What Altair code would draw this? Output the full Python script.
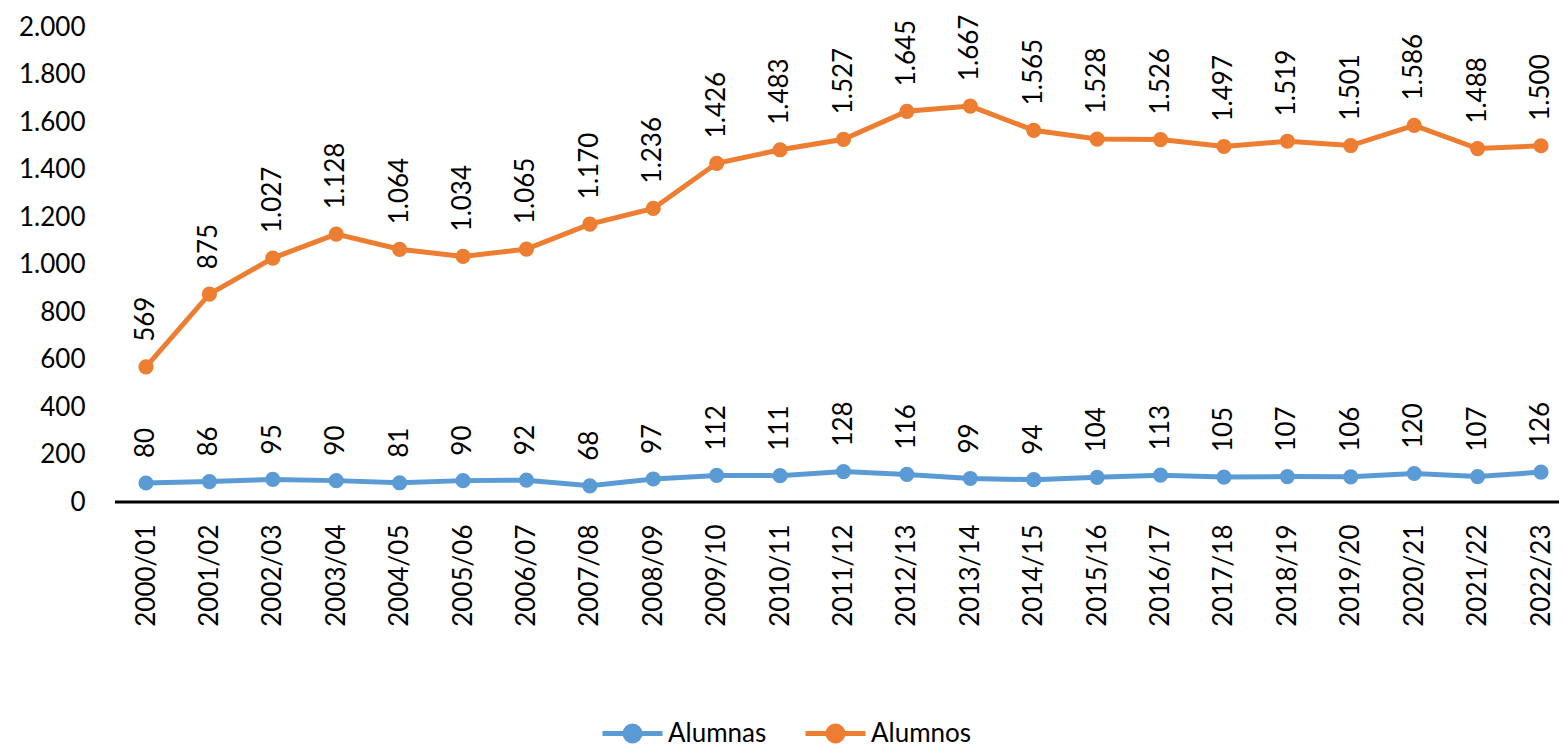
import altair as alt
import pandas as pd

cursos = ["2000/01", "2001/02", "2002/03", "2003/04", "2004/05", "2005/06", "2006/07",
          "2007/08", "2008/09", "2009/10", "2010/11", "2011/12", "2012/13", "2013/14",
          "2014/15", "2015/16", "2016/17", "2017/18", "2018/19", "2019/20", "2020/21",
          "2021/22", "2022/23"]
alumnas = [80, 86, 95, 90, 81, 90, 92, 68, 97, 112, 111, 128, 116, 99, 94, 104, 113,
           105, 107, 106, 120, 107, 126]
alumnos = [569, 875, 1027, 1128, 1064, 1034, 1065, 1170, 1236, 1426, 1483, 1527, 1645,
           1667, 1565, 1528, 1526, 1497, 1519, 1501, 1586, 1488, 1500]
series = ["Alumnas", "Alumnos"]
colors = ["#5B9BD5", "#ED7D31"]
y_ticks = [0, 200, 400, 600, 800, 1000, 1200, 1400, 1600, 1800, 2000]

rows = []
for name, vals in zip(series, [alumnas, alumnos]):
    for c, v in zip(cursos, vals):
        rows.append({"curso": c, "serie": name, "valor": v})
df = pd.DataFrame(rows)

W, H = 1444, 475
FONT = "Lato"
FS = 26

x = alt.X("curso:N", sort=cursos,
          scale=alt.Scale(type="point", range=[31, 1426], padding=0),
          axis=alt.Axis(title=None, labelAngle=-90, labelAlign="right", labelBaseline="middle",
                        labelPadding=22, ticks=False, domain=False, grid=False, labelFont=FONT,
                        labelFontSize=FS, labelColor="#000000"))
y = alt.Y("valor:Q", scale=alt.Scale(domain=[0, 2000], nice=False),
          axis=alt.Axis(title=None, values=y_ticks, grid=False, ticks=False, domain=False,
                        labelPadding=30, labelFont=FONT, labelFontSize=FS, labelColor="#000000",
                        labelExpr="replace(format(datum.value, ','), ',', '.')"))

legend_path = ("M-1,0L1,0M-0.25,0A0.25,0.25,0,1,1,0.25,0A0.25,0.25,0,1,1,-0.25,0Z")
color = alt.Color("serie:N", scale=alt.Scale(domain=series, range=colors),
                  legend=alt.Legend(title=None, orient="none", direction="horizontal",
                                    legendX=485, legendY=674, symbolType=legend_path,
                                    symbolSize=3600, symbolStrokeWidth=5,
                                    labelFont=FONT, labelFontSize=FS, labelColor="#000000",
                                    labelOffset=3, columnPadding=28))

base = alt.Chart(df)
lines = base.mark_line(strokeWidth=5, point=alt.OverlayMarkDef(filled=True, size=230, opacity=1)).encode(
    x=x, y=y, color=color)
labels = base.mark_text(angle=270, align="left", baseline="middle", dx=25,
                        font=FONT, fontSize=FS, color="#000000").transform_calculate(
    lbl="replace(format(datum.valor, ','), ',', '.')").encode(
    x=alt.X("curso:N", sort=cursos), y="valor:Q", text="lbl:N")
zero = alt.Chart(pd.DataFrame({"v": [0]})).mark_rule(color="#000000", strokeWidth=3).encode(
    y="v:Q", x=alt.value(0), x2=alt.value(W))

chart = alt.layer(zero, lines, labels).properties(
    width=W, height=H,
    background="white",
    autosize=alt.AutoSizeParams(type="none"),
    padding={"left": 107, "top": 19, "right": 0, "bottom": 245},
).configure_view(stroke=None, strokeWidth=0)

chart.save("out.html", embed_options={"renderer": "svg", "actions": False})
